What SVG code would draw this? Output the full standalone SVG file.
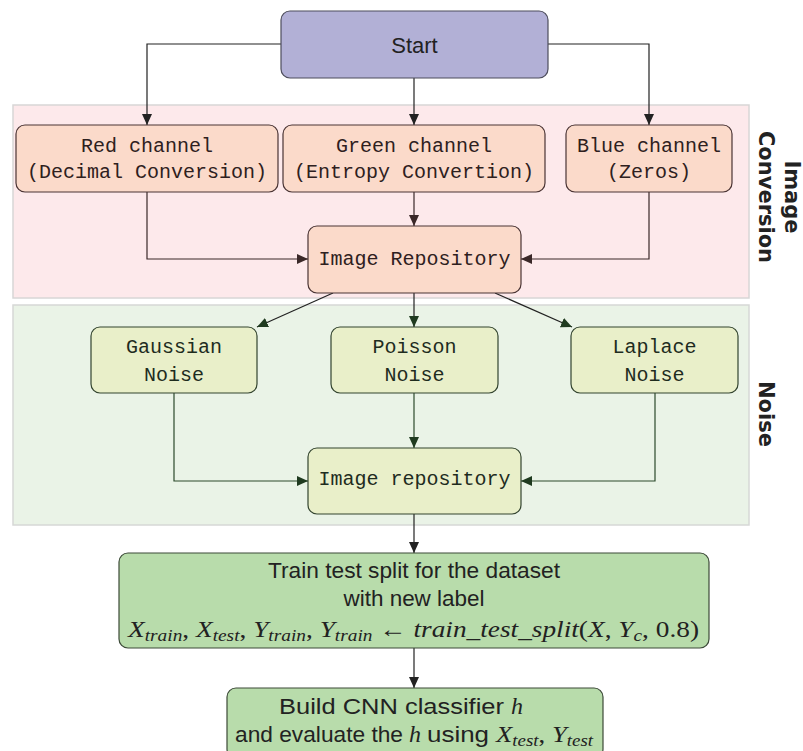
<svg xmlns="http://www.w3.org/2000/svg" width="803" height="751" viewBox="0 0 803 751">
<style>
.bgc{fill:#fde9eb;stroke:#d8d6d6;stroke-width:1.5}
.bgn{fill:#eaf3e7;stroke:#d6d8d6;stroke-width:1.5}
.start{fill:#b2b0d6;stroke:#4d4d5c;stroke-width:1.2}
.conv{fill:#fbdaca;stroke:#4a3434;stroke-width:1.2}
.noise{fill:#e9efc9;stroke:#33442f;stroke-width:1.2}
.fin{fill:#b8dcab;stroke:#3c4a38;stroke-width:1.2}
.mono{font-family:"Liberation Mono",monospace;font-size:20px;text-anchor:middle}
.tc{fill:#2e2020}
.tn{fill:#1e2c1e}
.sans{font-family:"Liberation Sans",Arial,sans-serif;font-size:22px;fill:#222;text-anchor:middle}
.math{font-family:"Liberation Serif","Times New Roman",serif;font-size:24px;fill:#222}
.it{font-style:italic}
.lbl{font-family:"DejaVu Sans",sans-serif;font-weight:bold;font-size:21px;fill:#222;text-anchor:middle}
.ck{fill:none;stroke:#222;stroke-width:1.2}
.cc{fill:none;stroke:#3a2828;stroke-width:1.2}
.cn{fill:none;stroke:#2c4a2c;stroke-width:1.2}
</style>
<defs>
<marker id="ak" markerUnits="userSpaceOnUse" markerWidth="12" markerHeight="11" refX="11" refY="5" orient="auto"><path d="M0,0 L11,5 L0,10 Z" fill="#222"/></marker>
<marker id="ac" markerUnits="userSpaceOnUse" markerWidth="12" markerHeight="11" refX="11" refY="5" orient="auto"><path d="M0,0 L11,5 L0,10 Z" fill="#3a2828"/></marker>
<marker id="an" markerUnits="userSpaceOnUse" markerWidth="12" markerHeight="11" refX="11" refY="5" orient="auto"><path d="M0,0 L11,5 L0,10 Z" fill="#1f3a1f"/></marker>
</defs>
<g id="regions">
<rect class="bgc" x="13" y="105" width="736" height="193"/>
<rect class="bgn" x="13" y="305" width="736" height="220"/>
<text class="lbl" transform="translate(785,197) rotate(90)"><tspan x="0" y="0">Image</tspan><tspan x="0" y="26">Conversion</tspan></text>
<text class="lbl" transform="translate(759,414) rotate(90)">Noise</text>
</g>
<g id="connectors">
<path class="ck" d="M281,44 H147 V125" marker-end="url(#ak)"/>
<path class="ck" d="M548,44 H649 V125" marker-end="url(#ak)"/>
<path class="ck" d="M414,78 V125" marker-end="url(#ak)"/>
<path class="cc" d="M147,192 V259 H308" marker-end="url(#ac)"/>
<path class="cc" d="M649,192 V259 H521" marker-end="url(#ac)"/>
<path class="cc" d="M414,192 V226" marker-end="url(#ac)"/>
<path class="ck" d="M333,293 L257,327" marker-end="url(#an)"/>
<path class="ck" d="M414,293 V327" marker-end="url(#an)"/>
<path class="ck" d="M495,293 L572,327" marker-end="url(#an)"/>
<path class="cn" d="M174,393 V481 H308" marker-end="url(#an)"/>
<path class="cn" d="M655,393 V481 H521" marker-end="url(#an)"/>
<path class="cn" d="M414,393 V448" marker-end="url(#an)"/>
<path class="ck" d="M414,514 V553" marker-end="url(#ak)"/>
<path class="ck" d="M414,648 V688" marker-end="url(#ak)"/>
</g>
<g id="start">
<rect class="start" x="281" y="11" width="267" height="67" rx="9"/>
<text class="sans" x="414.5" y="53">Start</text>
</g>
<g id="red">
<rect class="conv" x="16" y="125" width="262" height="67" rx="9"/>
<text class="mono tc" x="147" y="152">Red channel</text>
<text class="mono tc" x="147" y="178">(Decimal Conversion)</text>
</g>
<g id="green">
<rect class="conv" x="283" y="125" width="262" height="67" rx="9"/>
<text class="mono tc" x="414" y="152">Green channel</text>
<text class="mono tc" x="414" y="178">(Entropy Convertion)</text>
</g>
<g id="blue">
<rect class="conv" x="566" y="125" width="166" height="67" rx="9"/>
<text class="mono tc" x="649" y="152">Blue channel</text>
<text class="mono tc" x="649" y="178">(Zeros)</text>
</g>
<g id="repo1">
<rect class="conv" x="308" y="226" width="213" height="67" rx="9"/>
<text class="mono tc" x="414.5" y="265">Image Repository</text>
</g>
<g id="gaussian">
<rect class="noise" x="91" y="327" width="166" height="66" rx="9"/>
<text class="mono tn" x="174" y="353">Gaussian</text>
<text class="mono tn" x="174" y="381">Noise</text>
</g>
<g id="poisson">
<rect class="noise" x="331" y="327" width="167" height="66" rx="9"/>
<text class="mono tn" x="414.5" y="353">Poisson</text>
<text class="mono tn" x="414.5" y="381">Noise</text>
</g>
<g id="laplace">
<rect class="noise" x="571" y="327" width="167" height="66" rx="9"/>
<text class="mono tn" x="654.5" y="353">Laplace</text>
<text class="mono tn" x="654.5" y="381">Noise</text>
</g>
<g id="repo2">
<rect class="noise" x="308" y="448" width="213" height="66" rx="9"/>
<text class="mono tn" x="414.5" y="485">Image repository</text>
</g>
<g id="split">
<rect class="fin" x="119" y="553" width="590" height="95" rx="9"/>
<text class="sans" x="414" y="578" textLength="292" lengthAdjust="spacingAndGlyphs">Train test split for the dataset</text>
<text class="sans" x="414" y="606" textLength="141" lengthAdjust="spacingAndGlyphs">with new label</text>
<text class="math" x="128" y="637" textLength="571" lengthAdjust="spacingAndGlyphs"><tspan class="it">X</tspan><tspan class="it" font-size="17" dy="4">train</tspan><tspan dy="-4">, </tspan><tspan class="it">X</tspan><tspan class="it" font-size="17" dy="4">test</tspan><tspan dy="-4">, </tspan><tspan class="it">Y</tspan><tspan class="it" font-size="17" dy="4">train</tspan><tspan dy="-4">, </tspan><tspan class="it">Y</tspan><tspan class="it" font-size="17" dy="4">train</tspan><tspan dy="-4"> ← </tspan><tspan class="it">train_test_split</tspan><tspan>(</tspan><tspan class="it">X</tspan><tspan>, </tspan><tspan class="it">Y</tspan><tspan class="it" font-size="17" dy="4">c</tspan><tspan dy="-4">, 0.8)</tspan></text>
</g>
<g id="build">
<rect class="fin" x="227" y="688" width="376" height="70" rx="9"/>
<text class="sans" x="279" y="714" style="text-anchor:start" textLength="225" lengthAdjust="spacingAndGlyphs">Build CNN classifier</text>
<text class="math it" x="511" y="714">h</text>
<text class="sans" x="235" y="742" style="text-anchor:start" textLength="168" lengthAdjust="spacingAndGlyphs">and evaluate the</text>
<text class="math it" x="409" y="742">h</text>
<text class="sans" x="427" y="742" style="text-anchor:start" textLength="62" lengthAdjust="spacingAndGlyphs">using</text>
<text class="math" x="496" y="742" textLength="97" lengthAdjust="spacingAndGlyphs"><tspan class="it">X</tspan><tspan class="it" font-size="17" dy="4">test</tspan><tspan dy="-4">, </tspan><tspan class="it">Y</tspan><tspan class="it" font-size="17" dy="4">test</tspan></text>
</g>
</svg>
